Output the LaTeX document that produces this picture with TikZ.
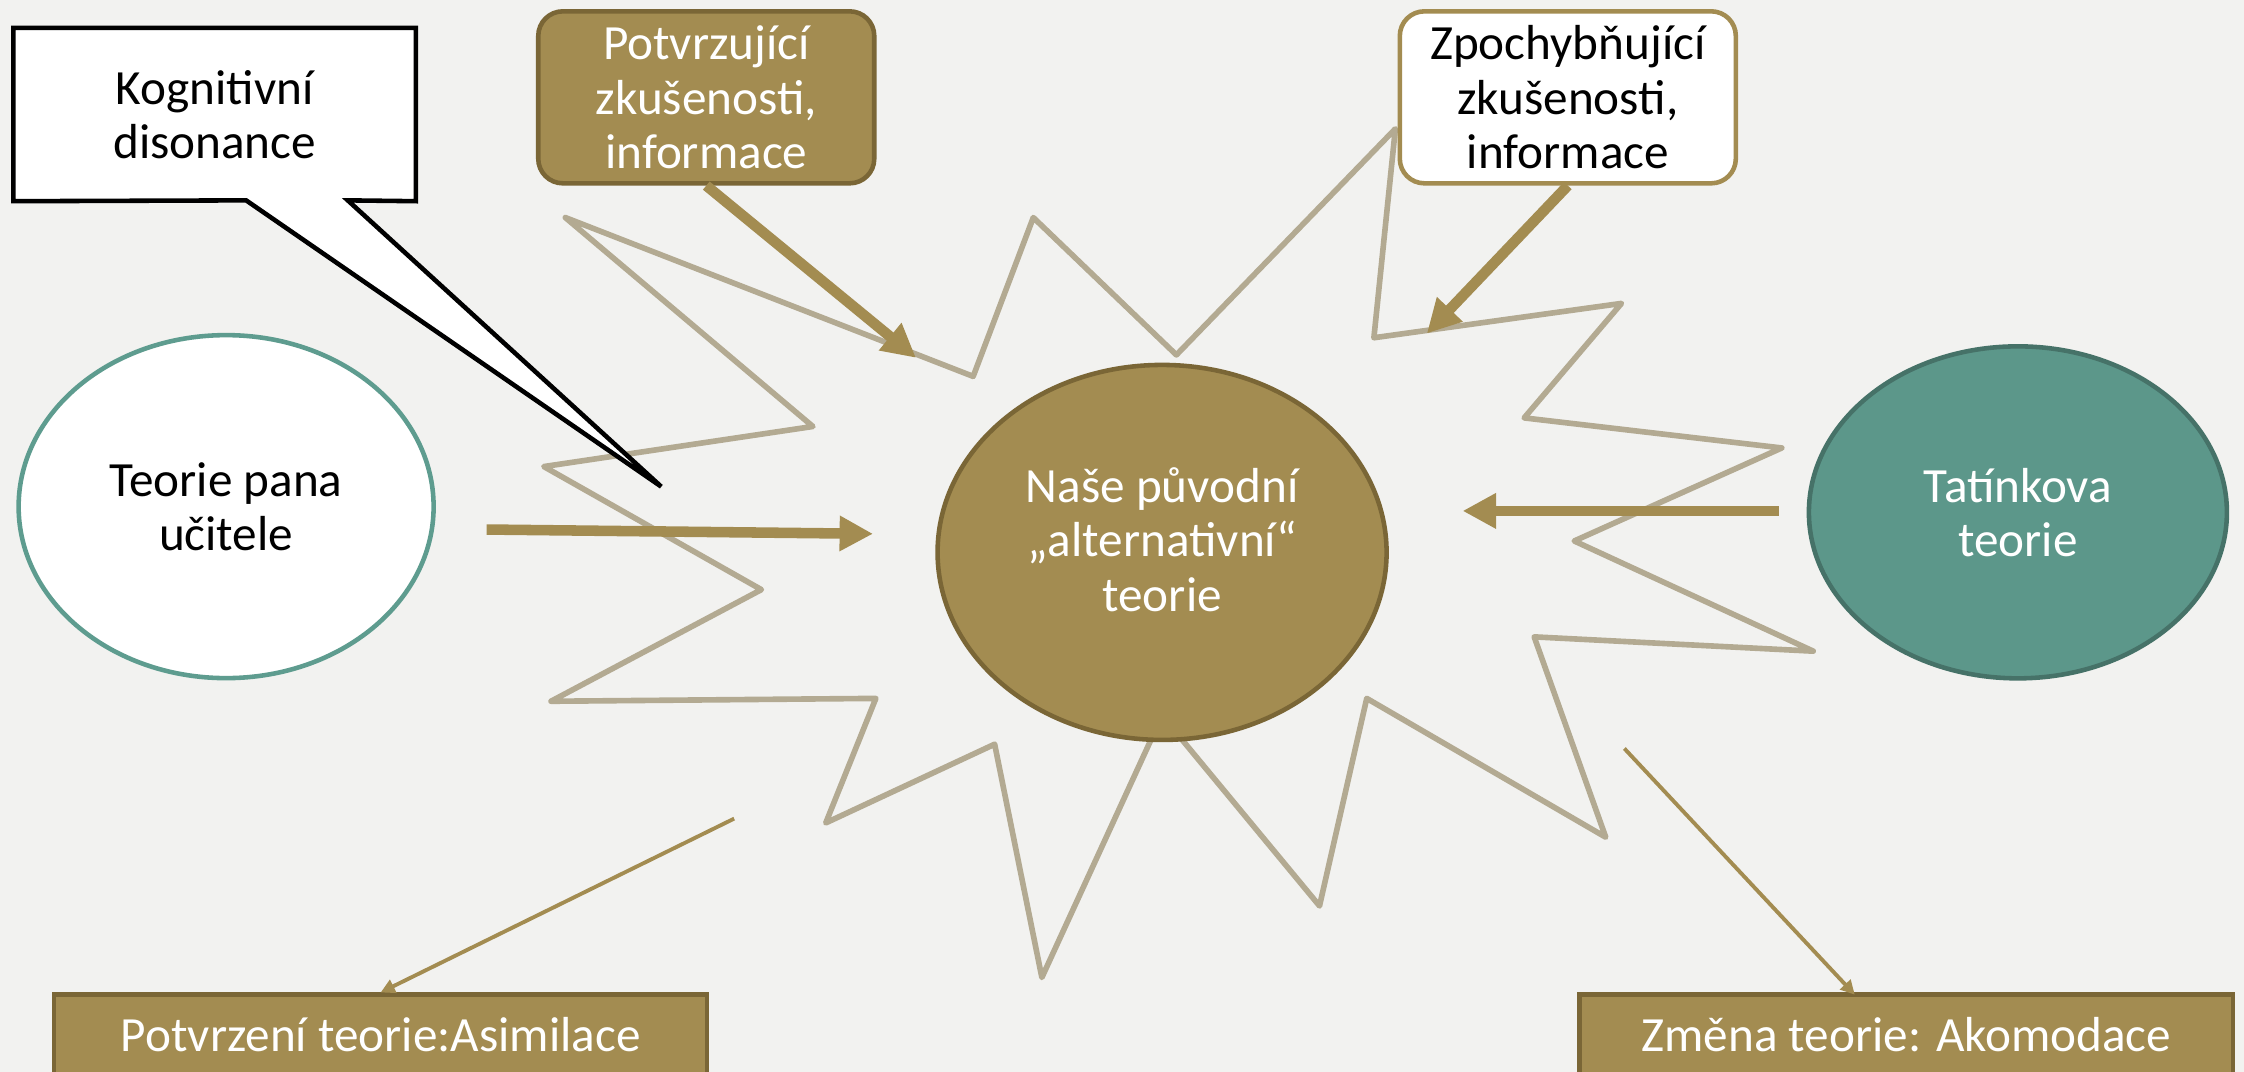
\documentclass[tikz,border=0pt]{standalone}
\usepackage{fontspec}
\setmainfont{Carlito}
\usetikzlibrary{arrows.meta,shapes.geometric}

\definecolor{pozadi}{HTML}{F2F2F0}
\definecolor{zlata}{HTML}{A38C51}
\definecolor{zlatatmava}{HTML}{7A6636}
\definecolor{hvezda}{HTML}{B3AA92}
\definecolor{tyrkys}{HTML}{5C978A}
\definecolor{tyrkystmavy}{HTML}{467268}
\definecolor{tyrkyssvetly}{HTML}{5E9C8F}

\begin{document}
\begin{tikzpicture}[x=0.14311mm,y=-0.14311mm,
  font=\fontsize{14}{15.5}\selectfont,
  teorie/.style={ellipse,line width=1.3pt,align=center,inner sep=0pt},
  zkusenost/.style={rounded corners=7pt,line width=1.3pt,align=center,
    minimum width=3.36cm,minimum height=1.72cm,inner sep=0pt},
  vysledek/.style={fill=zlata,draw=zlatatmava,line width=1.3pt,text=white,
    minimum width=6.53cm,minimum height=0.8cm},
  silna/.style={zlata,line width=3pt,-{Triangle[length=9.5pt,width=9.5pt]}},
  tenka/.style={zlata,line width=1.1pt,-{Triangle[length=4pt,width=4pt]}}]

  % pozadi
  \fill[pozadi] (0,0) rectangle (1568,749);
  \clip (0,0) rectangle (1568,749);

  % hvezda kolem nasi teorie
  \draw[hvezda,line width=1.6pt,line join=round]
    (395,152) -- (680,263) -- (722,152) -- (822,248) -- (975,90)
    -- (960,236) -- (1133,212) -- (1065,292) -- (1245,313) -- (1100,378)
    -- (1267,455) -- (1072,445) -- (1122,585) -- (955,488) -- (922,633)
    -- (812,500) -- (728,683) -- (695,520) -- (577,575) -- (612,488)
    -- (385,490) -- (532,412) -- (380,326) -- (568,298) -- cycle;

  % teorie
  \node[teorie,fill=white,draw=tyrkyssvetly,minimum width=4.15cm,
    minimum height=3.43cm] (ucitel) at (158,354) {Teorie pana\\učitele};
  \node[teorie,fill=zlata,draw=zlatatmava,minimum width=4.49cm,
    minimum height=3.75cm] (nase) at (812,386) {};
  \node[align=center,text=white] (nasetext) at (812,377)
    {Naše původní\\„alternativní“\\teorie};
  \node[teorie,fill=tyrkys,draw=tyrkystmavy,text=white,minimum width=4.18cm,
    minimum height=3.32cm] (tatinek) at (1410,358) {Tatínkova\\teorie};

  % bublina
  \coordinate (spicka) at (462,340);
  \node[minimum width=4.01cm,minimum height=1.72cm,align=center]
    (disonance) at (150,80) {};
  \filldraw[fill=white,draw=black,line width=1.3pt]
    (disonance.north west) -- (disonance.north east)
    -- (disonance.south east) -- (243,140) -- (spicka) -- (172,140)
    -- (disonance.south west) -- cycle;
  \node[align=center] at (disonance) {Kognitivní\\disonance};

  % zkusenosti
  \node[zkusenost,fill=zlata,draw=zlatatmava,text=white] (potvrz)
    at (493.5,68) {Potvrzující\\zkušenosti,\\informace};
  \node[zkusenost,fill=white,draw=zlata,text=black] (zpochyb)
    at (1095.5,68) {Zpochybňující\\zkušenosti,\\informace};

  % vysledky
  \node[vysledek] (asimil) at (266,723) {Potvrzení teorie:Asimilace};
  \node[vysledek] (akomod) at (1332,723) {Změna teorie:  Akomodace};

  % sipky
  \coordinate (k1) at (640,250);
  \coordinate (k2) at (997,233);
  \coordinate (z3) at (340,370);
  \coordinate (k3) at (610,373);
  \coordinate (z4) at (1243,357);
  \coordinate (k4) at (1022,357);
  \coordinate (z5) at (513,572);
  \coordinate (z6) at (1135,523);
  \coordinate (k6) at (1296,695);
  \draw[silna] (potvrz.south) -- (k1);
  \draw[silna] (zpochyb.south) -- (k2);
  \draw[silna] (z3) -- (k3);
  \draw[silna] (z4) -- (k4);
  \draw[tenka] (z5) -- (asimil.north);
  \draw[tenka] (z6) -- (k6);
\end{tikzpicture}
\end{document}
